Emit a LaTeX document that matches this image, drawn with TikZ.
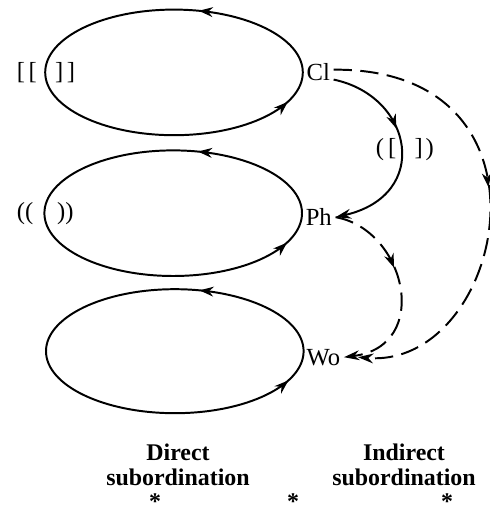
\documentclass[tikz,border=0pt]{standalone}
\usepackage{fontspec}
\setmainfont{Liberation Serif}
\usetikzlibrary{arrows.meta, positioning, decorations.markings}

\begin{document}
\begin{tikzpicture}[font=\fontsize{17.5}{18}\selectfont, line width=1.4pt,
    ring/.style={postaction={decorate}, decoration={markings,
        mark=at position 0.21 with {\arrow{Stealth[length=10pt, width=7pt]}},
        mark=at position 0.945 with {\arrow{Stealth[length=10pt, width=7pt]}}}},
    midarrow/.style={postaction={decorate}, decoration={markings,
        mark=at position #1 with {\arrow{Stealth[length=10pt, width=7pt]}}}},
    tip/.style={-{Stealth[length=11pt, width=7pt]}},
    dashline/.style={dash pattern=on 13pt off 6pt},
    lvl/.style={anchor=west, inner sep=2pt},
    head/.style={font=\fontsize{17}{18}\selectfont\bfseries, align=center}]
  \useasboundingbox (0,0) rectangle (12.25,12.85);

  \coordinate (ringcl) at (4.35,11.04);
  \coordinate (ringph) at (4.33,7.52);
  \coordinate (ringwo) at (4.37,4.07);

  \draw[ring] (ringcl) ellipse (3.22 and 1.57);
  \draw[ring] (ringph) ellipse (3.22 and 1.57);
  \draw[ring] (ringwo) ellipse (3.22 and 1.55);

  \node[lvl] (cl) at ([xshift=3.22cm]ringcl) {Cl};
  \node[lvl] (ph) at ([xshift=3.22cm, yshift=-0.1cm]ringph) {Ph};
  \node[lvl] (wo) at ([xshift=3.2cm, yshift=-0.15cm]ringwo) {Wo};
  \coordinate (woend) at ([xshift=0.35cm]wo.east);

  \node (sq) at ([xshift=-3.2cm]ringcl) {[\kern2.5pt[\kern13pt]\kern2.5pt]};
  \node (rd) at ([xshift=-3.2cm]ringph) {((\kern17pt))};
  \node (mx) at (10.12,9.1) {(\kern3pt[\kern13pt]\kern2pt)};

  \draw[tip, midarrow=0.4] (cl.-25) .. controls +(2.0,-0.42) and +(2.4,0.55) .. (ph.east);
  \draw[tip, dashline, midarrow=0.47] (cl.10) .. controls +(5.9,0.05) and +(3.65,-0.3) .. (woend);
  \draw[tip, dashline, midarrow=0.4] (ph.east) .. controls +(1.75,-0.3) and +(2.22,0.28) .. (wo.east);

  \node[head] (dir) at (4.45,1.22) {Direct\\subordination};
  \node[head] (ind) at (10.1,1.22) {Indirect\\subordination};

  \node[head, anchor=base, inner sep=0pt] (s1) at (3.875,0.1) {*};
  \node[head, anchor=base, inner sep=0pt] (s2) at (7.325,0.1) {*};
  \node[head, anchor=base, inner sep=0pt] (s3) at (11.175,0.1) {*};
\end{tikzpicture}
\end{document}
